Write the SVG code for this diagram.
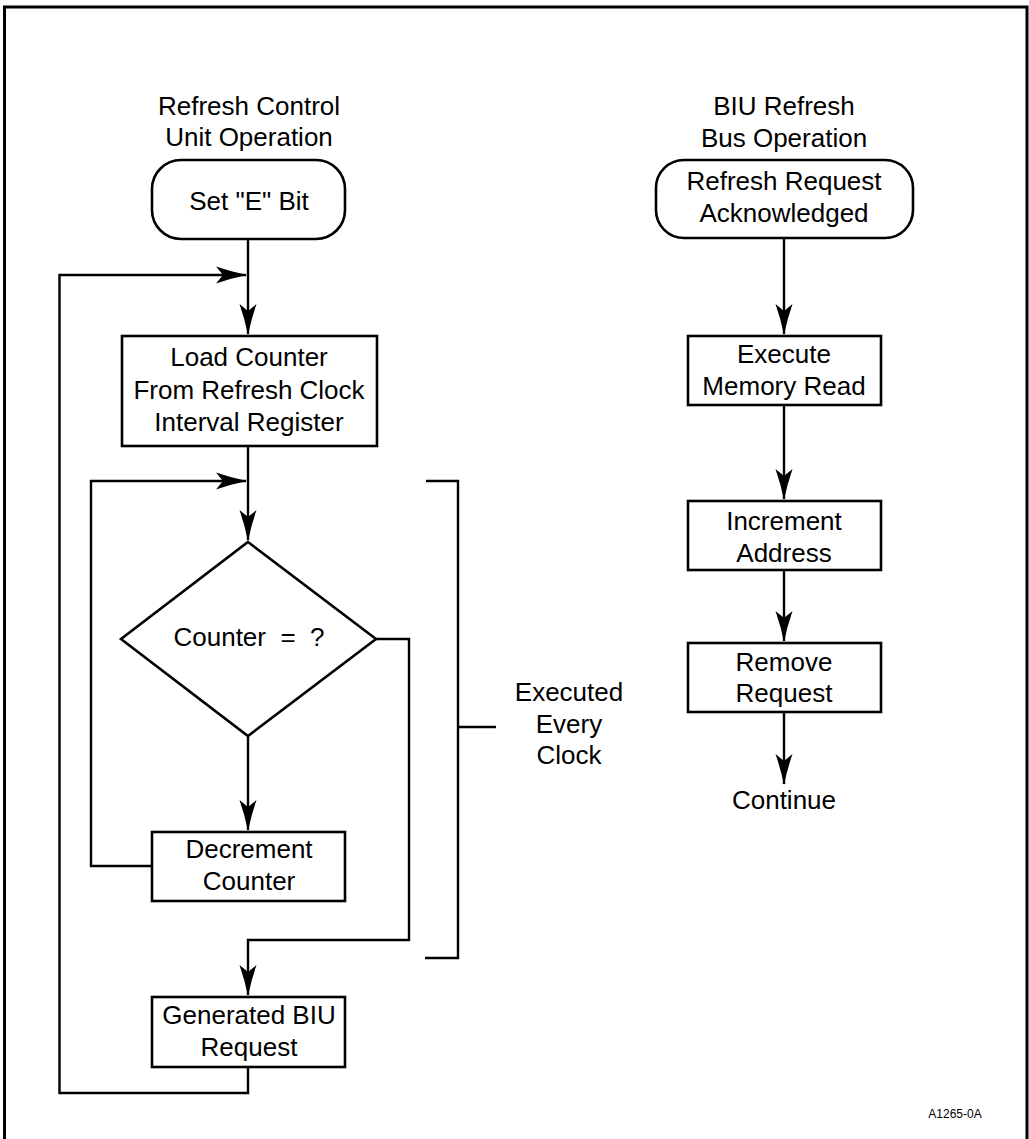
<svg xmlns="http://www.w3.org/2000/svg" width="1029" height="1139" viewBox="0 0 1029 1139">
<style>
text{font-family:"Liberation Sans",Arial,sans-serif;font-size:26px;fill:#000;text-anchor:middle}
.box{fill:#fff;stroke:#000;stroke-width:2.6}
.ln{fill:none;stroke:#000;stroke-width:2.4}
.small{font-size:12px}
</style>
<defs>
<marker id="ah" markerUnits="userSpaceOnUse" markerWidth="40" markerHeight="20" viewBox="-32 -10 34 20" refX="0" refY="0" orient="auto">
<path d="M1,0 Q-14,-3 -30,-8.5 L-23,0 L-30,8.5 Q-14,3 1,0 Z" fill="#000"/>
</marker>
</defs>
<rect x="4.5" y="7" width="1022.5" height="1145" fill="none" stroke="#000" stroke-width="3"/>
<g id="connectors">
<path class="ln" d="M248,239 V334" marker-end="url(#ah)"/>
<path class="ln" d="M248,1067 V1093 H59.5 V275 H246" marker-end="url(#ah)"/>
<path class="ln" d="M248,446 V540" marker-end="url(#ah)"/>
<path class="ln" d="M152,866 H91 V481 H246" marker-end="url(#ah)"/>
<path class="ln" d="M248,736 V830" marker-end="url(#ah)"/>
<path class="ln" d="M376,639 H409 V940 H248 V995" marker-end="url(#ah)"/>
<path class="ln" d="M784,238 V334" marker-end="url(#ah)"/>
<path class="ln" d="M784,405 V499" marker-end="url(#ah)"/>
<path class="ln" d="M784,570 V641" marker-end="url(#ah)"/>
<path class="ln" d="M784,712 V784" marker-end="url(#ah)"/>
</g>
<g id="bracket">
<path class="ln" d="M426,481 H458 V958 H425 M458,727 H496"/>
<text x="569" y="701">Executed</text>
<text x="569" y="733">Every</text>
<text x="569" y="764">Clock</text>
</g>
<g id="title-left">
<text x="249" y="115">Refresh Control</text>
<text x="249" y="146">Unit Operation</text>
</g>
<g id="title-right">
<text x="784" y="115">BIU Refresh</text>
<text x="784" y="147">Bus Operation</text>
</g>
<g id="set-e-bit">
<rect class="box" x="152" y="160" width="193" height="79" rx="29"/>
<text x="249" y="210">Set "E" Bit</text>
</g>
<g id="load-counter">
<rect class="box" x="122" y="336" width="255" height="110"/>
<text x="249" y="366">Load Counter</text>
<text x="249" y="399">From Refresh Clock</text>
<text x="249" y="431">Interval Register</text>
</g>
<g id="counter-decision">
<polygon class="box" points="248,542 376,639 248,736 121,639"/>
<text x="249" y="646" xml:space="preserve" style="white-space:pre">Counter  =  ?</text>
</g>
<g id="decrement-counter">
<rect class="box" x="152" y="832" width="193" height="69"/>
<text x="249" y="858">Decrement</text>
<text x="249" y="890">Counter</text>
</g>
<g id="generated-biu-request">
<rect class="box" x="152" y="997" width="193" height="70"/>
<text x="249" y="1024">Generated BIU</text>
<text x="249" y="1056">Request</text>
</g>
<g id="refresh-request-ack">
<rect class="box" x="656" y="160" width="257" height="78" rx="28"/>
<text x="784" y="190">Refresh Request</text>
<text x="784" y="222">Acknowledged</text>
</g>
<g id="execute-memory-read">
<rect class="box" x="688" y="336" width="193" height="69"/>
<text x="784" y="363">Execute</text>
<text x="784" y="395">Memory Read</text>
</g>
<g id="increment-address">
<rect class="box" x="688" y="501" width="193" height="69"/>
<text x="784" y="530">Increment</text>
<text x="784" y="562">Address</text>
</g>
<g id="remove-request">
<rect class="box" x="688" y="643" width="193" height="69"/>
<text x="784" y="671">Remove</text>
<text x="784" y="702">Request</text>
</g>
<g id="continue">
<text x="784" y="809">Continue</text>
</g>
<text class="small" x="955" y="1118">A1265-0A</text>
</svg>
